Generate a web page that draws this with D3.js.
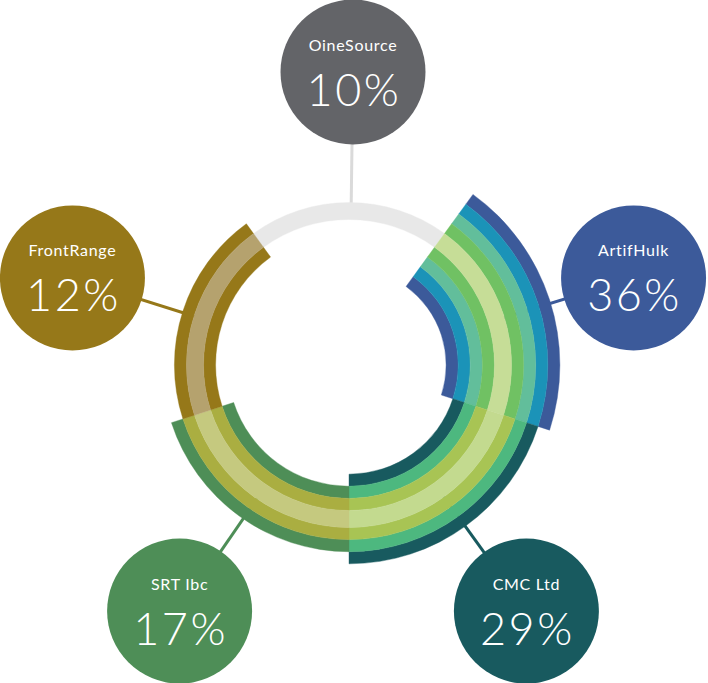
<!DOCTYPE html>
<html>
<head>
<meta charset="utf-8">
<script src="https://cdn.jsdelivr.net/npm/d3@7"></script>
<style>
  html, body { margin: 0; padding: 0; background: #fff; }
  svg { display: block; }
</style>
</head>
<body>
<svg id="chart" width="708" height="683"></svg>
<script>
// ---- data ----
const names = ["OineSource", "ArtifHulk", "CMC Ltd", "SRT Ibc", "FrontRange"];
const values = [10, 36, 29, 17, 12];

// ---- styles (colours per segment, outermost band -> middle band) ----
const bandColors = [
  ["#e8e8e8"],
  ["#3c5a9a", "#1b93b8", "#62be9b", "#70c163", "#c6dd97"],
  ["#185a5f", "#4db87f", "#a8c454", "#c3da8f"],
  ["#4e8e57", "#aaae41", "#c5c97f"],
  ["#967819", "#b5a26e"]
];
const circleColors = ["#636468", "#3c5a9a", "#185a5f", "#4e8e57", "#967819"];
const lineColors = ["#dadada", "#3c5a9a", "#185a5f", "#4e8e57", "#967819"];

// ---- layout ----
const cx = 349, cy = 365;          // ring centre
const midR = 154;                   // middle radius of ring
const midHalf = 8.5;                // half width of middle band
const bandW = 12.1;                 // width of each other band
const layoutC = [353, 370], layoutRx = 295, layoutRy = 298; // bubble layout
const bubbleR = 72.5;

const svg = d3.select("#chart");

const pie = d3.pie().value(() => 1).sort(null)
  .startAngle(-Math.PI / 5).endAngle(2 * Math.PI - Math.PI / 5);
const slices = pie(names.map((n, i) => ({ name: n, value: values[i], i })));

const gLines = svg.append("g");
const gRing = svg.append("g").attr("transform", `translate(${cx},${cy})`);
const gBubbles = svg.append("g");

function midAngle(d) { return (d.startAngle + d.endAngle) / 2; }
function bubblePos(d) {
  const a = midAngle(d);
  return [layoutC[0] + layoutRx * Math.sin(a), layoutC[1] - layoutRy * Math.cos(a)];
}

// connector lines
slices.forEach(d => {
  const [bx, by] = bubblePos(d);
  const dx = cx - bx, dy = cy - by;
  const len = Math.hypot(dx, dy);
  const ex = cx - dx / len * midR, ey = cy - dy / len * midR;
  gLines.append("line")
    .attr("x1", bx).attr("y1", by).attr("x2", ex).attr("y2", ey)
    .attr("stroke", lineColors[d.data.i]).attr("stroke-width", 3);
});

// ring bands
const arc = d3.arc();
slices.forEach(d => {
  const cols = bandColors[d.data.i];
  const n = cols.length;
  const bands = [];
  cols.forEach((c, k) => {
    const depth = n - 1 - k; // 0 = middle
    if (depth === 0) {
      bands.push({ r0: midR - midHalf, r1: midR + midHalf, c });
    } else {
      const a = midHalf + bandW * (depth - 1), b = midHalf + bandW * depth;
      bands.push({ r0: midR + a, r1: midR + b, c });
      bands.push({ r0: midR - b, r1: midR - a, c });
    }
  });
  const g = gRing.append("g");
  g.selectAll("path").data(bands).join("path")
    .attr("d", b => arc({ innerRadius: b.r0, outerRadius: b.r1, startAngle: d.startAngle, endAngle: d.endAngle }))
    .attr("fill", b => b.c)
    .attr("stroke", b => b.c).attr("stroke-width", 0.4);
});

// bubbles
slices.forEach(d => {
  const [bx, by] = bubblePos(d);
  const g = gBubbles.append("g").attr("transform", `translate(${bx},${by})`);
  g.append("circle").attr("r", bubbleR).attr("fill", circleColors[d.data.i]);
  g.append("text").attr("y", -21.5).attr("text-anchor", "middle")
    .attr("font-family", "Lato, 'Open Sans', sans-serif").attr("font-size", 16)
    .attr("letter-spacing", 0.7)
    .attr("fill", "#fff").text(d.data.name);
  g.append("text").attr("x", 1).attr("y", 33.5).attr("text-anchor", "middle")
    .attr("font-family", "Lato, 'Open Sans', sans-serif").attr("font-weight", 300)
    .attr("letter-spacing", 2.5)
    .attr("font-size", 45).attr("fill", "#fff").text(d.data.value + "%");
});
</script>
</body>
</html>
